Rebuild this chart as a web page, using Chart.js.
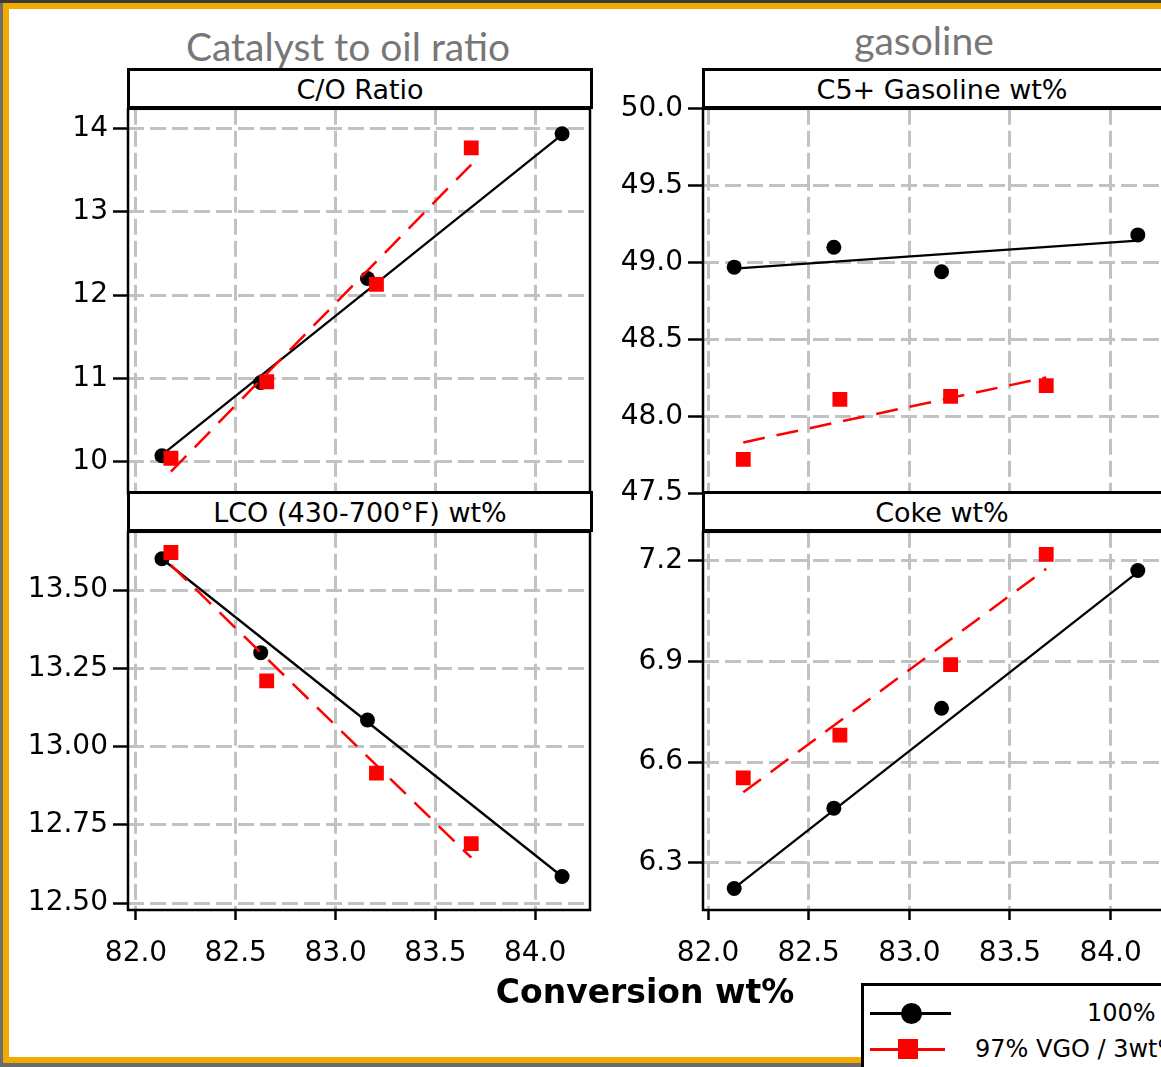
<!DOCTYPE html>
<html>
<head>
<meta charset="utf-8">
<script src="https://cdn.jsdelivr.net/npm/chart.js@4.4.0/dist/chart.umd.min.js"></script>
<style>
  html, body { margin: 0; padding: 0; width: 1161px; height: 1067px; overflow: hidden; background: #6c6c6c; }
  #topstrip { position: absolute; left: 0; top: 0; width: 1161px; height: 3px; background: #3a3a3a; }
  #frame { position: absolute; left: 3px; top: 3px; width: 1200px; height: 1048px; border: 6px solid #f2aa00; background: #fff; }
  canvas { position: absolute; z-index: 1; }
  .head { position: absolute; z-index: 2; box-sizing: border-box; height: 41px; border: 3px solid #000; background: #fff;
          font-family: "DejaVu Sans"; font-size: 27px; line-height: 38px; text-align: center; color: #000; }
  .title { position: absolute; z-index: 2; font-family: Lato; font-size: 39px; line-height: 39px; color: #777; white-space: nowrap; transform: translateX(-50%); }
  #xlabel { position: absolute; z-index: 2; left: 645px; top: 972px; transform: translateX(-50%); font-family: "DejaVu Sans"; font-weight: bold; font-size: 33px; line-height: 40px; white-space: nowrap; }
  #legend { position: absolute; z-index: 3; left: 861px; top: 983px; width: 400px; height: 120px; border: 3px solid #000; background: #fff; }
  .lg { position: absolute; font-family: "DejaVu Sans"; font-size: 24px; line-height: 28px; white-space: nowrap; }
  .ln { position: absolute; height: 3px; }
</style>
</head>
<body>
<div id="topstrip"></div>
<div id="frame"></div>

<div class="title" style="left:348px; top:27px;">Catalyst to oil ratio</div>
<div class="title" style="left:924px; top:21px;">gasoline</div>

<div class="head" style="left:127px; top:68px; width:466px;">C/O Ratio</div>
<div class="head" style="left:702px; top:68px; width:480px;">C5+ Gasoline wt%</div>
<div class="head" style="left:127px; top:491px; width:466px;">LCO (430-700°F) wt%</div>
<div class="head" style="left:702px; top:491px; width:480px;">Coke wt%</div>

<canvas id="coChart" width="593" height="428" style="left:0px; top:87px;"></canvas>
<canvas id="gasChart" width="594" height="428" style="left:575px; top:87px;"></canvas>
<canvas id="lcoChart" width="593" height="468" style="left:0px; top:510px;"></canvas>
<canvas id="cokeChart" width="594" height="468" style="left:575px; top:510px;"></canvas>

<div id="xlabel">Conversion wt%</div>

<div id="legend">
  <div class="ln" style="left:6px; top:26px; width:81px; background:#000;"></div>
  <div style="position:absolute; left:37px; top:17px; width:21px; height:21px; border-radius:50%; background:#000;"></div>
  <div class="lg" style="left:223px; top:13px;">100%</div>
  <div class="ln" style="left:6px; top:62px; width:75px; background:#f00;"></div>
  <div style="position:absolute; left:34px; top:53px; width:20px; height:20px; background:#f00;"></div>
  <div class="lg" style="left:111px; top:49px;">97% VGO / 3wt%</div>
</div>

<script>
// conversion (x) for each feed
const conv100 = [82.13, 82.625, 83.16, 84.135];
const convBlend = [82.175, 82.655, 83.205, 83.68];

// measured yields
const coRatio100 = [10.07, 10.95, 12.2, 13.94];
const coRatioBlend = [10.04, 10.96, 12.13, 13.77];
const gasoline100 = [48.97, 49.1, 48.94, 49.18];
const gasolineBlend = [47.72, 48.11, 48.13, 48.2];
const lco100 = [13.6, 13.3, 13.085, 12.585];
const lcoBlend = [13.62, 13.21, 12.915, 12.69];
const coke100 = [6.224, 6.463, 6.76, 7.17];
const cokeBlend = [6.553, 6.68, 6.89, 7.218];

// fitted trend lines (end points)
const fitX100 = [82.13, 84.135];
const fitXBlend = [82.175, 83.68];
const coFit100 = [10.08, 13.93];
const coFitBlend = [9.88, 13.57];
const gasFit100 = [48.96, 49.143];
const gasFitBlend = [47.83, 48.253];
const lcoFit100 = [13.6, 12.585];
const lcoFitBlend = [13.58, 12.645];
const cokeFit100 = [6.225, 7.165];
const cokeFitBlend = [6.51, 7.175];

// tick labels
const xTicks = [82.0, 82.5, 83.0, 83.5, 84.0];
const coTicks = [10, 11, 12, 13, 14];
const gasTicks = [47.5, 48.0, 48.5, 49.0, 49.5, 50.0];
const lcoTicks = [12.5, 12.75, 13.0, 13.25, 13.5];
const cokeTicks = [6.3, 6.6, 6.9, 7.2];

function pts(xs, ys) {
  return xs.map((x, i) => ({ x: x, y: ys[i] }));
}

// black box round the plot area
const framePlugin = {
  id: "frame",
  afterDraw(chart) {
    const a = chart.chartArea;
    const ctx = chart.ctx;
    ctx.save();
    ctx.strokeStyle = "#000";
    ctx.lineWidth = 2.5;
    ctx.strokeRect(a.left, a.top, a.right - a.left, a.bottom - a.top);
    ctx.restore();
  },
};

const tickFont = { family: "DejaVu Sans", size: 28 };

function makePanel(id, p) {
  new Chart(document.getElementById(id).getContext("2d"), {
    type: "scatter",
    data: {
      datasets: [
        {
          data: pts(convBlend, p.blend),
          pointStyle: "rect",
          pointRadius: 10.5,
          pointBackgroundColor: "#ff0000",
          pointBorderWidth: 0,
          showLine: false,
        },
        {
          data: pts(fitXBlend, p.fitBlend),
          showLine: true,
          borderColor: "#ff0000",
          borderWidth: 2.5,
          borderDash: [22, 12],
          pointRadius: 0,
        },
        {
          data: pts(conv100, p.base),
          pointStyle: "circle",
          pointRadius: 7.5,
          pointBackgroundColor: "#000",
          pointBorderWidth: 0,
          showLine: false,
        },
        {
          data: pts(fitX100, p.fit100),
          showLine: true,
          borderColor: "#000",
          borderWidth: 2.3,
          pointRadius: 0,
        },
      ],
    },
    options: {
      responsive: false,
      animation: false,
      events: [],
      layout: { autoPadding: false, padding: { top: 20, right: 3, left: 0, bottom: 0 } },
      plugins: { legend: { display: false }, tooltip: { enabled: false } },
      scales: {
        x: {
          type: "linear",
          min: p.xMin,
          max: p.xMax,
          afterBuildTicks: (scale) => {
            scale.ticks = xTicks.map((v) => ({ value: v }));
          },
          afterFit: (scale) => {
            scale.height = p.showX ? 68 : 20;
          },
          border: { display: false, dash: [16, 6] },
          grid: {
            color: "#c2c2c2",
            lineWidth: 3,
            drawTicks: p.showX,
            tickLength: 10,
            tickColor: "#000",
            tickWidth: 2.5,
            tickBorderDash: [],
          },
          ticks: {
            display: p.showX,
            color: "#000",
            padding: 17,
            maxRotation: 0,
            font: tickFont,
            callback: (v) => v.toFixed(1),
          },
        },
        y: {
          type: "linear",
          min: p.yMin,
          max: p.yMax,
          afterBuildTicks: (scale) => {
            scale.ticks = p.yTicks.map((v) => ({ value: v }));
          },
          afterFit: (scale) => {
            scale.width = 128;
          },
          border: { display: false, dash: [16, 6] },
          grid: {
            color: "#c2c2c2",
            lineWidth: 3,
            drawTicks: true,
            tickLength: 15,
            tickColor: "#000",
            tickWidth: 2.5,
            tickBorderDash: [],
          },
          ticks: {
            color: "#000",
            padding: 5,
            font: tickFont,
            callback: (v) => v.toFixed(p.digits),
          },
        },
      },
    },
    plugins: [framePlugin],
  });
}

makePanel("coChart", {
  xMin: 81.96, xMax: 84.275, yMin: 9.62, yMax: 14.24, yTicks: coTicks, digits: 0, showX: false,
  base: coRatio100, blend: coRatioBlend, fit100: coFit100, fitBlend: coFitBlend,
});
makePanel("gasChart", {
  xMin: 81.975, xMax: 84.275, yMin: 47.5, yMax: 50.0, yTicks: gasTicks, digits: 1, showX: false,
  base: gasoline100, blend: gasolineBlend, fit100: gasFit100, fitBlend: gasFitBlend,
});
makePanel("lcoChart", {
  xMin: 81.96, xMax: 84.275, yMin: 12.478, yMax: 13.686, yTicks: lcoTicks, digits: 2, showX: true,
  base: lco100, blend: lcoBlend, fit100: lcoFit100, fitBlend: lcoFitBlend,
});
makePanel("cokeChart", {
  xMin: 81.975, xMax: 84.275, yMin: 6.16, yMax: 7.285, yTicks: cokeTicks, digits: 1, showX: true,
  base: coke100, blend: cokeBlend, fit100: cokeFit100, fitBlend: cokeFitBlend,
});
</script>
</body>
</html>
